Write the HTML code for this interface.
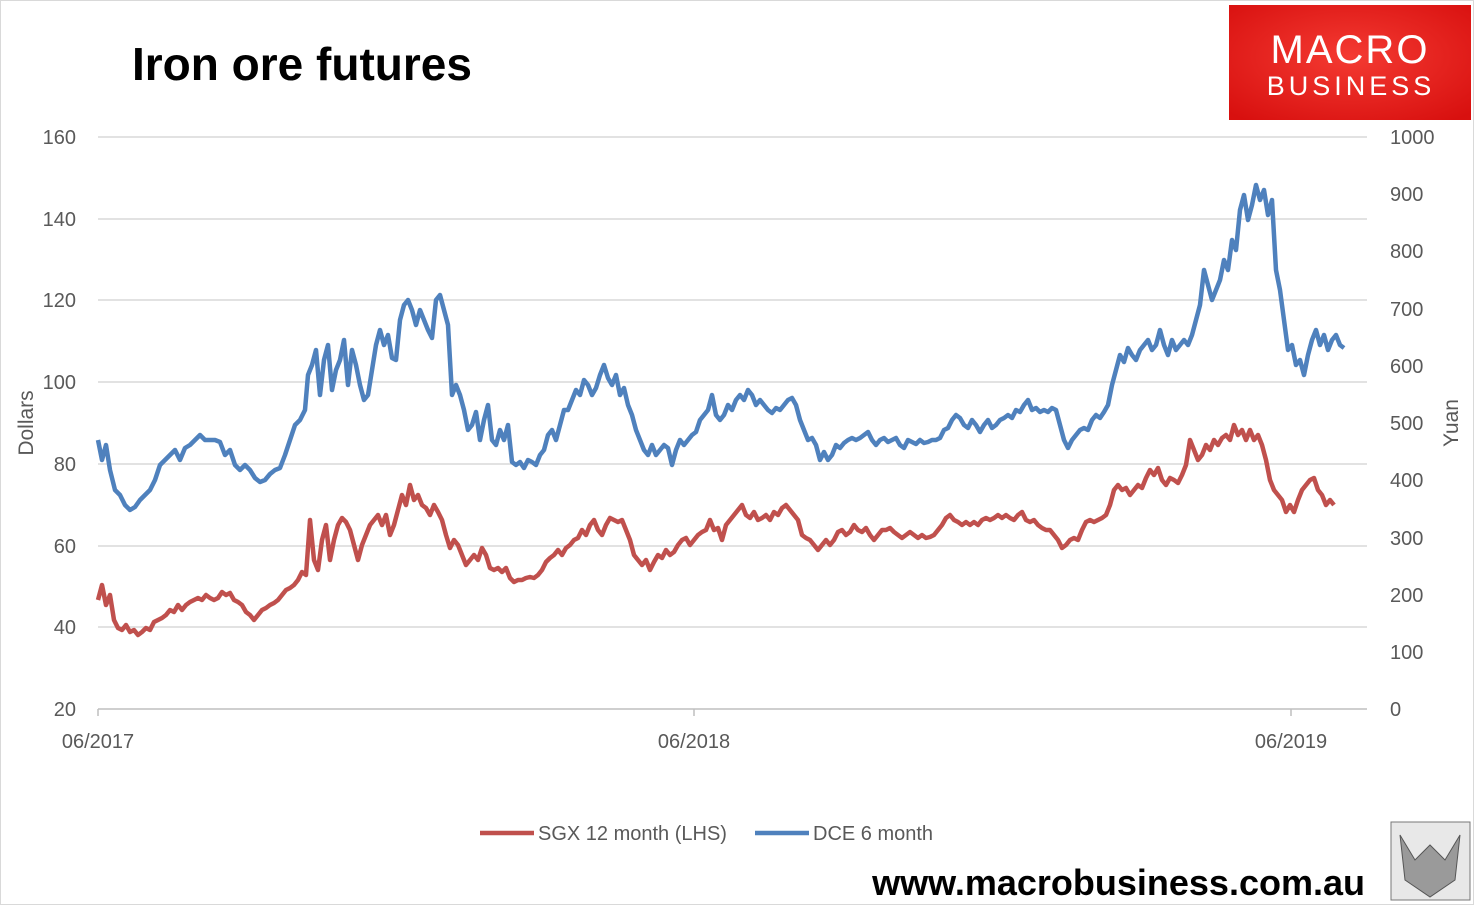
<!DOCTYPE html>
<html><head><meta charset="utf-8"><style>
body{margin:0;background:#fff;}
svg text{font-family:"Liberation Sans",sans-serif;}
</style></head><body>
<svg width="1474" height="905" viewBox="0 0 1474 905" xmlns="http://www.w3.org/2000/svg">
<defs><radialGradient id="rg" cx="50%" cy="45%" r="70%"><stop offset="0" stop-color="#f43a32"/><stop offset="1" stop-color="#d8100f"/></radialGradient></defs>
<rect x="0.5" y="0.5" width="1473" height="904" fill="#fff" stroke="#d9d9d9"/>
<text x="132" y="80" font-size="46" font-weight="bold" fill="#000">Iron ore futures</text>
<rect x="1229" y="5" width="242" height="115" fill="url(#rg)"/>
<text x="1350" y="63" font-size="40" fill="#fff" text-anchor="middle" letter-spacing="2">MACRO</text>
<text x="1351" y="95" font-size="27" fill="#fff" text-anchor="middle" letter-spacing="4">BUSINESS</text>
<g stroke="#d9d9d9" stroke-width="1.5">
<line x1="98" y1="137" x2="1367" y2="137"/><line x1="98" y1="219" x2="1367" y2="219"/><line x1="98" y1="300" x2="1367" y2="300"/><line x1="98" y1="382" x2="1367" y2="382"/><line x1="98" y1="464" x2="1367" y2="464"/><line x1="98" y1="546" x2="1367" y2="546"/><line x1="98" y1="627" x2="1367" y2="627"/>
</g>
<g stroke="#bfbfbf" stroke-width="1.5"><line x1="98" y1="709" x2="1367" y2="709"/><line x1="98" y1="709" x2="98" y2="716"/><line x1="694" y1="709" x2="694" y2="716"/><line x1="1291" y1="709" x2="1291" y2="716"/></g>
<g font-size="20" fill="#595959" text-anchor="end">
<text x="76" y="144">160</text><text x="76" y="226">140</text><text x="76" y="307">120</text><text x="76" y="389">100</text><text x="76" y="471">80</text><text x="76" y="553">60</text><text x="76" y="634">40</text><text x="76" y="716">20</text>
</g>
<g font-size="20" fill="#595959">
<text x="1390" y="144">1000</text><text x="1390" y="201">900</text><text x="1390" y="258">800</text><text x="1390" y="316">700</text><text x="1390" y="373">600</text><text x="1390" y="430">500</text><text x="1390" y="487">400</text><text x="1390" y="545">300</text><text x="1390" y="602">200</text><text x="1390" y="659">100</text><text x="1390" y="716">0</text>
</g>
<g font-size="20" fill="#595959" text-anchor="middle"><text x="98" y="748">06/2017</text><text x="694" y="748">06/2018</text><text x="1291" y="748">06/2019</text></g>
<text transform="translate(33,423) rotate(-90)" font-size="21" fill="#595959" text-anchor="middle">Dollars</text>
<text transform="translate(1458,423) rotate(-90)" font-size="21" fill="#595959" text-anchor="middle">Yuan</text>
<polyline fill="none" stroke="#c0504d" stroke-width="4.5" stroke-linejoin="round" points="98,600 102,585 106,605 110,595 114,620 118,628 122,630 126,625 130,632 134,630 138,635 142,632 146,628 150,630 154,622 158,620 162,618 166,615 170,610 174,612 178,605 182,610 186,605 190,602 194,600 198,598 202,600 206,595 210,598 214,600 218,598 222,592 226,595 230,593 234,600 238,602 242,605 246,612 250,615 254,620 258,615 262,610 266,608 270,605 274,603 278,600 282,595 286,590 290,588 294,585 298,580 302,572 306,575 310,520 314,560 318,570 322,540 326,525 330,560 334,540 338,525 342,518 346,522 350,530 354,545 358,560 362,545 366,535 370,525 374,520 378,515 382,525 386,515 390,535 394,525 398,510 402,495 406,505 410,485 414,500 418,495 422,505 426,508 430,515 434,505 438,512 442,520 446,535 450,548 454,540 458,545 462,555 466,565 470,560 474,555 478,560 482,548 486,555 490,568 494,570 498,568 502,572 506,568 510,578 514,582 518,580 522,580 526,578 530,577 534,578 538,575 542,570 546,562 550,558 554,555 558,550 562,555 566,548 570,545 574,540 578,538 582,530 586,535 590,525 594,520 598,530 602,535 606,525 610,518 614,520 618,522 622,520 626,530 630,540 634,555 638,560 642,565 646,560 650,570 654,562 658,555 662,558 666,550 670,555 674,552 678,545 682,540 686,538 690,545 694,540 698,535 702,532 706,530 710,520 714,530 718,528 722,540 726,525 730,520 734,515 738,510 742,505 746,515 750,518 754,512 758,520 762,518 766,515 770,520 774,512 778,515 782,508 786,505 790,510 794,515 798,520 802,535 806,538 810,540 814,545 818,550 822,545 826,540 830,545 834,540 838,532 842,530 846,535 850,532 854,525 858,530 862,532 866,528 870,535 874,540 878,535 882,530 886,530 890,528 894,532 898,535 902,538 906,535 910,532 914,535 918,538 922,535 926,538 930,537 934,535 938,530 942,525 946,518 950,515 954,520 958,522 962,525 966,522 970,525 974,522 978,525 982,520 986,518 990,520 994,518 998,515 1002,518 1006,515 1010,518 1014,520 1018,515 1022,512 1026,520 1030,522 1034,520 1038,525 1042,528 1046,530 1050,530 1054,535 1058,540 1062,548 1066,545 1070,540 1074,538 1078,540 1082,530 1086,522 1090,520 1094,522 1098,520 1102,518 1106,515 1110,505 1114,490 1118,485 1122,490 1126,488 1130,495 1134,490 1138,485 1142,488 1146,478 1150,470 1154,475 1158,468 1162,480 1166,485 1170,478 1174,480 1178,483 1182,475 1186,465 1190,440 1194,450 1198,460 1202,455 1206,445 1210,450 1214,440 1218,445 1222,438 1226,435 1230,440 1234,425 1238,435 1242,430 1246,440 1250,430 1254,440 1258,435 1262,445 1266,460 1270,480 1274,490 1278,495 1282,500 1286,512 1290,505 1294,512 1298,500 1302,490 1306,485 1310,480 1314,478 1318,490 1322,495 1326,505 1330,500 1334,505"/>
<polyline fill="none" stroke="#4f81bd" stroke-width="4.5" stroke-linejoin="round" points="98,440 102,460 106,445 110,470 115,490 120,495 125,505 130,510 135,507 140,500 145,495 150,490 155,480 160,465 165,460 170,455 175,450 180,460 185,448 190,445 195,440 200,435 205,440 210,440 215,440 220,442 225,455 230,450 235,465 240,470 245,465 250,470 255,478 260,482 265,480 270,474 275,470 280,468 285,455 290,440 295,425 300,420 305,410 308,375 312,365 316,350 320,395 324,360 328,345 332,390 336,370 340,360 344,340 348,385 352,350 356,365 360,385 364,400 368,395 372,370 376,345 380,330 384,345 388,335 392,358 396,360 400,320 404,305 408,300 412,310 416,325 420,310 424,320 428,330 432,338 436,300 440,295 444,310 448,325 452,395 456,385 460,395 464,410 468,430 472,425 476,412 480,440 484,420 488,405 492,440 496,445 500,430 504,440 508,425 512,462 516,465 520,462 524,468 528,460 532,462 536,465 540,455 544,450 548,435 552,430 556,440 560,425 564,410 568,410 572,400 576,390 580,395 584,380 588,385 592,395 596,388 600,375 604,365 608,378 612,385 616,375 620,395 624,388 628,405 632,415 636,430 640,440 644,450 648,455 652,445 656,455 660,450 664,445 668,448 672,465 676,450 680,440 684,445 688,440 692,435 696,432 700,420 704,415 708,410 712,395 716,415 720,420 724,415 728,405 732,410 736,400 740,395 744,400 748,390 752,395 756,405 760,400 764,405 768,410 772,413 776,408 780,410 784,405 788,400 792,398 796,405 800,420 804,430 808,440 812,438 816,445 820,460 824,452 828,460 832,455 836,445 840,448 844,443 848,440 852,438 856,440 860,438 864,435 868,432 872,440 876,445 880,440 884,438 888,442 892,440 896,438 900,445 904,448 908,440 912,442 916,444 920,440 924,443 928,442 932,440 936,440 940,438 944,430 948,428 952,420 956,415 960,418 964,425 968,428 972,420 976,425 980,432 984,425 988,420 992,428 996,425 1000,420 1004,418 1008,415 1012,418 1016,410 1020,412 1024,405 1028,400 1032,410 1036,408 1040,412 1044,410 1048,412 1052,408 1056,410 1060,425 1064,440 1068,448 1072,440 1076,435 1080,430 1084,428 1088,430 1092,420 1096,415 1100,418 1104,412 1108,405 1112,385 1116,370 1120,355 1124,362 1128,348 1132,355 1136,360 1140,350 1144,345 1148,340 1152,350 1156,345 1160,330 1164,345 1168,355 1172,340 1176,350 1180,345 1184,340 1188,345 1192,335 1196,320 1200,305 1204,270 1208,285 1212,300 1216,290 1220,280 1224,260 1228,270 1232,240 1236,250 1240,210 1244,195 1248,220 1252,205 1256,185 1260,200 1264,190 1268,215 1272,200 1276,270 1280,290 1284,320 1288,350 1292,345 1296,365 1300,360 1304,375 1308,355 1312,340 1316,330 1320,345 1324,335 1328,350 1332,340 1336,335 1340,345 1344,348"/>
<line x1="480" y1="833" x2="534" y2="833" stroke="#c0504d" stroke-width="4.5"/>
<text x="538" y="840" font-size="20" fill="#595959">SGX 12 month (LHS)</text>
<line x1="755" y1="833" x2="809" y2="833" stroke="#4f81bd" stroke-width="4.5"/>
<text x="813" y="840" font-size="20" fill="#595959">DCE 6 month</text>
<text x="1365" y="895" font-size="36" font-weight="bold" fill="#000" text-anchor="end">www.macrobusiness.com.au</text>
<rect x="1391" y="822" width="79" height="78" fill="#e8e8e8" stroke="#777"/>
<path d="M1400 835 L1415 860 L1430 845 L1445 860 L1460 835 L1455 880 L1430 897 L1405 880 Z" fill="#9a9a9a" stroke="#555"/>
</svg>
</body></html>
